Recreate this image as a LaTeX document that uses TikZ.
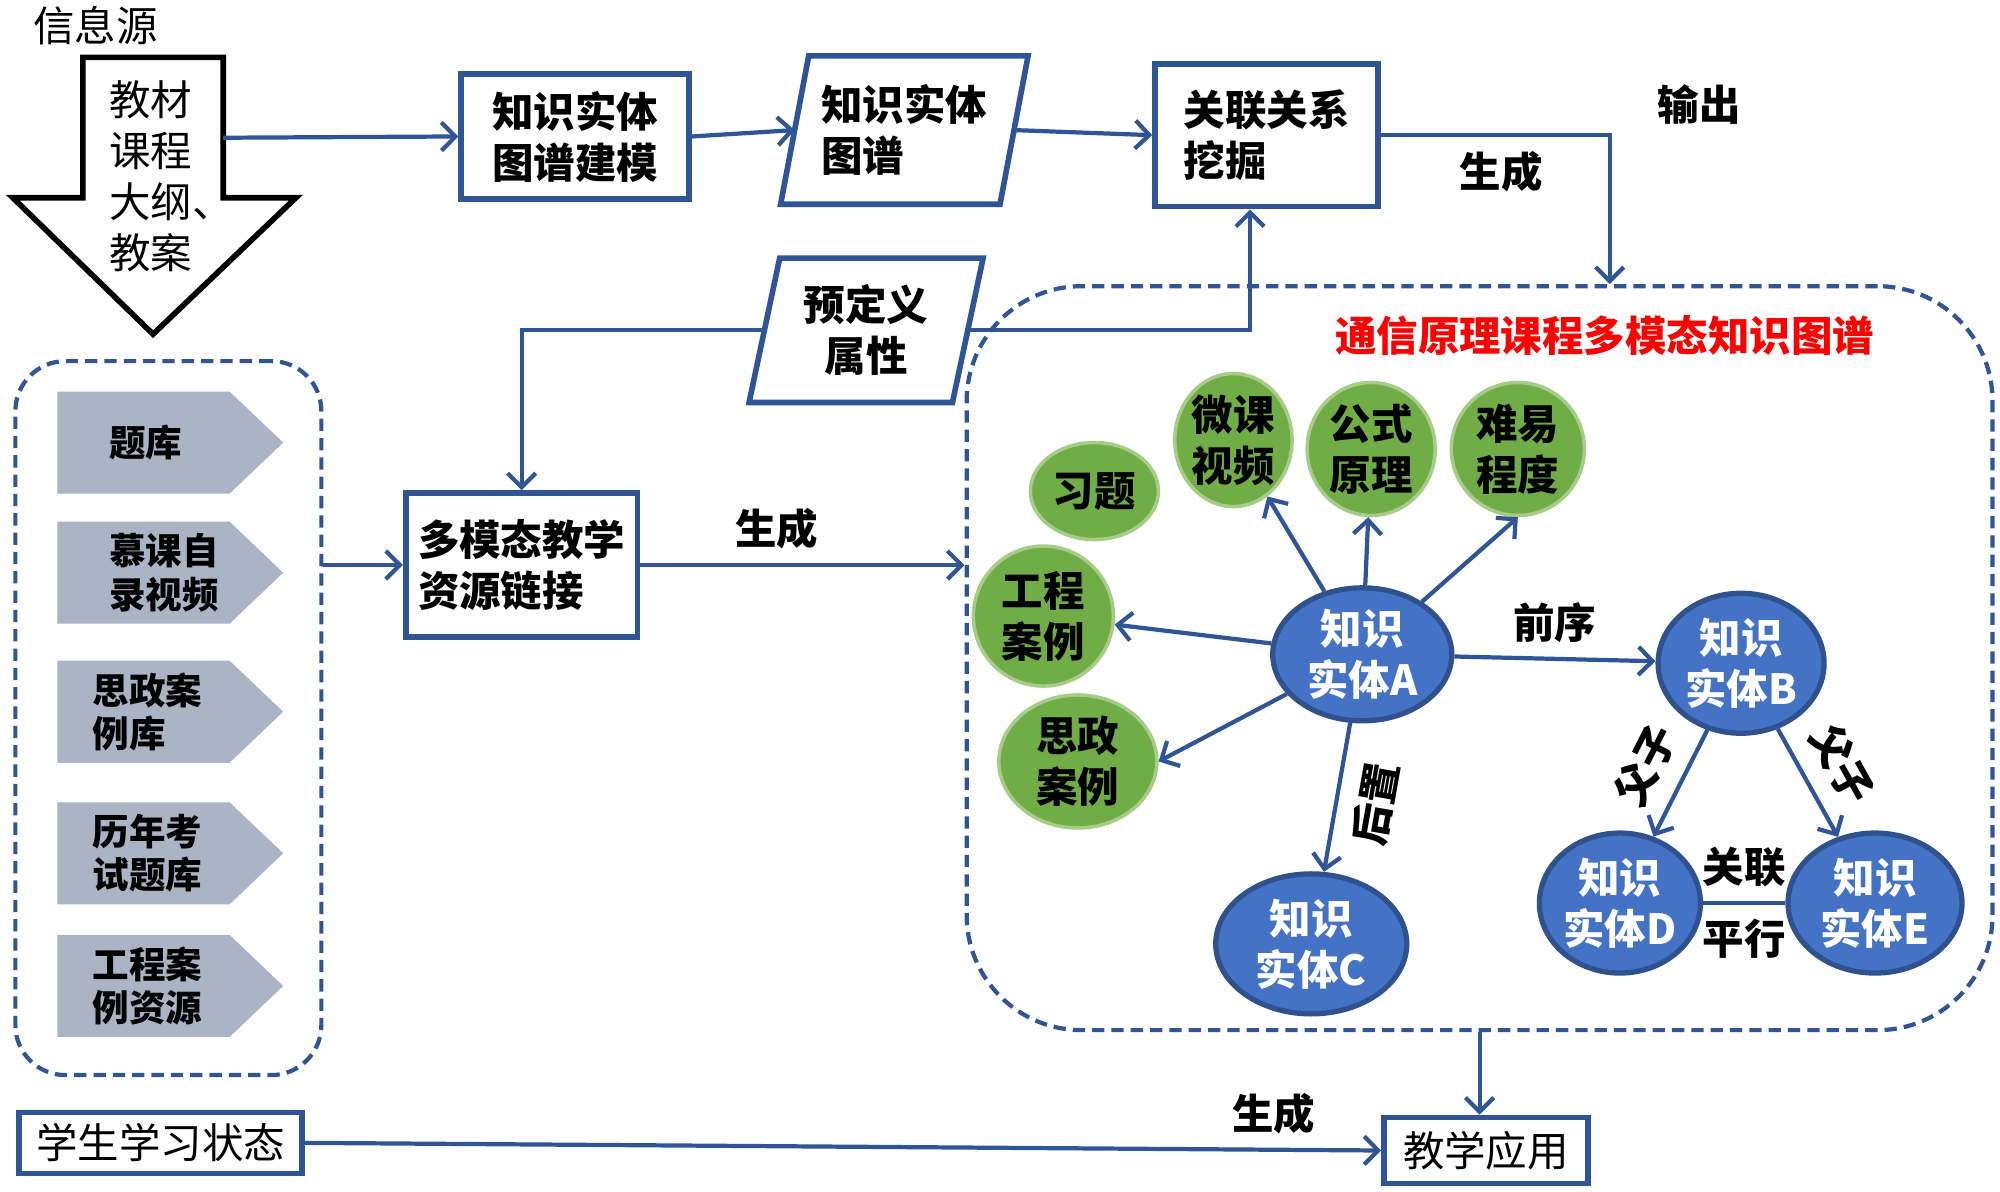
\documentclass[tikz,border=0pt]{standalone}
\usepackage{fontspec}
\setmainfont{Noto Sans CJK SC}
\usetikzlibrary{arrows.meta,positioning,calc,shapes.geometric}

\definecolor{lineblue}{RGB}{47,85,151}
\definecolor{nodeblue}{RGB}{68,114,196}
\definecolor{blueedge}{RGB}{47,82,143}
\definecolor{leafgreen}{RGB}{112,173,71}
\definecolor{leafedge}{RGB}{165,205,135}
\definecolor{siggrey}{RGB}{170,180,197}

\tikzset{
  box/.style={draw=lineblue,line width=1.6pt,inner sep=0pt,font=\bfseries},
  frame/.style={draw=lineblue,line width=1.6pt},
  flow/.style={lineblue,line width=1.2pt,->},
  lbl/.style={text=black,font=\bfseries},
  dashbox/.style={draw=lineblue,line width=1.2pt,dash pattern=on 3.5pt off 2pt},
  leaf/.style={ellipse,fill=leafgreen,draw=leafedge,line width=1pt,inner sep=0pt,align=center,font=\bfseries},
  ent/.style={ellipse,fill=nodeblue,draw=blueedge,line width=1.5pt,inner sep=0pt,align=center,text=white,font=\bfseries},
  sigtext/.style={anchor=west,align=left,inner sep=0pt,font=\fontsize{10.4}{12.3}\selectfont\bfseries}
}

\begin{document}
\fontsize{11.8}{14.5}\selectfont
\begin{tikzpicture}[x=0.012755cm,y=-0.012755cm,>={Straight Barb[length=4pt,width=8pt]}]
\useasboundingbox (0,0) rectangle (1568,934);

% source
\node[inner sep=0pt] (xxy) at (75,20) {信息源};
\draw[black,line width=1.6pt,fill=white] (65,45) -- (175,45) -- (175,155) -- (232,155) -- (120,262) -- (10,155) -- (65,155) -- cycle;
\node[anchor=west,align=left,inner sep=0pt] (src) at (85,138) {教材\\课程\\大纲、\\教案};
\coordinate (srcout) at (175,108);

% top row
\node[box,minimum width=2.28cm,minimum height=1.25cm,align=center] (ke) at (451,107) {知识实体\\图谱建模};
\node[minimum width=2.18cm,minimum height=1.47cm,inner sep=0pt,align=left,font=\bfseries] (kge) at (709,102) {知识实体\\图谱};
\draw[frame] ($(kge.south west)+(-11,0)$) -- ($(kge.north west)+(11,0)$) -- ($(kge.north east)+(11,0)$) -- ($(kge.south east)+(-11,0)$) -- cycle;
\node[box,minimum width=2.23cm,minimum height=1.43cm,align=left] (mine) at (993,106) {关联关系\\挖掘};
\node[lbl] (out) at (1332,82) {输出};
\node[lbl] (gen1) at (1177,135) {生成};

\node[minimum width=2.02cm,minimum height=1.43cm,inner sep=0pt,align=center,font=\bfseries] (pre) at (679,259) {预定义\\属性};
\draw[frame] ($(pre.south west)+(-12,0)$) -- ($(pre.north west)+(12,0)$) -- ($(pre.north east)+(12,0)$) -- ($(pre.south east)+(-12,0)$) -- cycle;

% resources
\node[dashbox,rounded corners=0.5cm,minimum width=3.06cm,minimum height=7.14cm] (lb) at (132,563) {};
\foreach \y/\x/\t [count=\i] in {347/85/题库,449/85/慕课自\\录视频,558/72/思政案\\例库,669/72/历年考\\试题库,773/72/工程案\\例资源}
{
  \fill[siggrey] (45,\y-40) -- (180,\y-40) -- (222,\y) -- (180,\y+40) -- (45,\y+40) -- cycle;
  \node[sigtext] (sig\i) at (\x,\y) {\t};
}
\node[box,minimum width=2.32cm,minimum height=1.44cm,align=left] (mm) at (409,443) {多模态教学\\资源链接};

% knowledge graph
\node[dashbox,rounded corners=1.15cm,minimum width=10.26cm,minimum height=7.44cm] (kg) at (1160,516) {};
\node[text=red,font=\bfseries] (kgt) at (1258,263) {通信原理课程多模态知识图谱};

\node[leaf,minimum width=1.28cm,minimum height=0.97cm] (xt) at (858,385) {习题};
\node[leaf,minimum width=1.15cm,minimum height=1.33cm] (wk) at (967,345) {微课\\视频};
\node[leaf,minimum width=1.28cm,minimum height=1.33cm] (gs) at (1075,352) {公式\\原理};
\node[leaf,minimum width=1.33cm,minimum height=1.33cm] (ny) at (1190,352) {难易\\程度};
\node[leaf,minimum width=1.40cm,minimum height=1.40cm] (gc) at (818,483) {工程\\案例};
\node[leaf,minimum width=1.58cm,minimum height=1.33cm] (sz) at (845,597) {思政\\案例};

\node[ent,minimum width=1.79cm,minimum height=1.33cm] (ea) at (1068,513) {知识\\实体A};
\node[ent,minimum width=1.66cm,minimum height=1.40cm] (eb) at (1365,520) {知识\\实体B};
\node[ent,minimum width=1.91cm,minimum height=1.40cm] (ec) at (1028,740) {知识\\实体C};
\node[ent,minimum width=1.61cm,minimum height=1.40cm] (ed) at (1270,708) {知识\\实体D};
\node[ent,minimum width=1.74cm,minimum height=1.40cm] (ee) at (1470,708) {知识\\实体E};

\draw[flow] (ea) -- (wk);
\draw[flow] (ea) -- (gs);
\draw[flow] (ea) -- (ny.south);
\draw[flow] (ea) -- (gc);
\draw[flow] (ea) -- (sz.east);
\draw[flow] (ea) -- (eb) node[midway,above,lbl] (qx) {前序};
\draw[flow] (ea) -- (ec) node[midway,sloped,below=1pt,lbl] (hz) {后置};
\draw[flow] (eb) -- (ed) node[midway,sloped,above=1pt,lbl] (fz1) {父子};
\draw[flow] (eb) -- (ee) node[midway,sloped,above=1pt,lbl] (fz2) {父子};
\draw[lineblue,line width=1.2pt] (ed) -- (ee) node[midway,above,lbl] (gl) {关联} node[midway,below,lbl] (px) {平行};

% application
\node[box,font=\normalfont,minimum width=2.04cm,minimum height=0.66cm] (app) at (1165,902) {教学应用};
\node[box,font=\normalfont,minimum width=2.83cm,minimum height=0.61cm] (st) at (126,896) {学生学习状态};

% connectors
\draw[flow] (srcout) -- (ke.west);
\draw[flow] (ke.east) -- (kge.west);
\draw[flow] (kge.east) -- (mine.west);
\draw[flow] (mine.east) -| ($(kg.north)+(102,0)$);
\draw[flow] (pre.east) -| ($(mine.south)+(-13,0)$);
\draw[flow] (pre.west) -| (mm.north);
\draw[flow] (lb.east |- mm.west) -- (mm.west);
\draw[flow] (mm.east) -- (mm.east -| kg.west) node[pos=0.42,above=0pt,lbl] (gen2) {生成};
\draw[flow] (kg.south) -- (kg.south |- app.north);
\draw[flow] (st.east) -- (app.west) node[pos=0.9,above,lbl] (gen3) {生成};
\end{tikzpicture}
\end{document}
